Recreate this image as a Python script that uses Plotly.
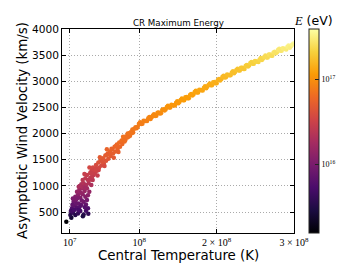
import numpy as np
import plotly.graph_objects as go

# Central temperature (K)
temperature = [
    0.56e7, 1.21e7, 1.08e7, 1.42e7, 1.72e7, 2.07e7, 2.37e7, 2.80e7, 3.10e7, 3.36e7,
    1.29e7, 1.64e7, 1.94e7, 1.50e7, 1.81e7, 2.16e7, 2.50e7, 2.80e7, 3.10e7, 3.23e7,
    1.72e7, 2.07e7, 2.37e7, 2.67e7, 3.02e7, 1.94e7, 2.24e7, 2.59e7, 2.93e7, 3.23e7,
    3.53e7, 2.16e7, 2.50e7, 2.80e7, 3.10e7, 3.45e7, 3.79e7, 2.67e7, 3.02e7, 3.36e7,
    3.66e7, 3.97e7, 3.23e7, 3.66e7, 4.09e7, 4.31e7, 4.74e7, 3.88e7,
    1.15e7, 1.35e7, 1.58e7, 1.85e7, 2.25e7, 2.55e7, 2.95e7, 2.45e7, 2.70e7, 1.95e7,
    2.70e7, 3.40e7, 1.40e7, 2.10e7, 3.00e7, 3.35e7, 2.30e7, 2.90e7, 3.55e7,
    3.70e7, 3.90e7, 4.00e7, 4.20e7, 4.40e7, 4.50e7, 4.70e7, 4.80e7, 5.00e7, 5.10e7,
    5.30e7, 5.40e7, 5.60e7, 5.70e7, 5.90e7, 6.00e7, 6.20e7, 6.30e7, 6.50e7, 6.60e7,
    6.80e7, 6.90e7, 7.10e7, 7.20e7, 7.40e7, 7.50e7, 7.70e7, 7.80e7, 8.00e7, 8.10e7,
    4.10e7, 5.20e7, 6.10e7, 3.60e7, 4.60e7, 5.50e7, 4.90e7, 5.80e7, 6.70e7, 7.30e7,
    7.90e7, 8.20e7, 8.50e7, 8.80e7, 9.10e7, 6.40e7, 7.00e7, 5.75e7, 4.35e7, 3.85e7,
    8.3e7, 8.6e7, 8.9e7, 9.2e7, 9.5e7, 9.8e7, 10.1e7, 10.4e7, 10.7e7, 11.0e7,
    11.3e7, 11.6e7, 11.9e7, 12.2e7, 12.5e7, 12.8e7, 13.1e7, 13.4e7, 13.7e7, 14.0e7,
    14.3e7, 14.6e7, 14.9e7, 15.2e7, 15.5e7, 15.8e7, 16.1e7, 16.4e7, 16.7e7, 17.0e7,
    17.3e7, 17.6e7, 17.9e7, 18.2e7, 18.5e7, 18.8e7, 19.1e7, 19.4e7, 19.7e7, 20.0e7,
    20.3e7, 20.6e7, 20.9e7, 21.2e7, 21.5e7, 21.8e7, 22.1e7, 22.4e7, 22.7e7, 23.0e7,
    23.3e7, 23.6e7, 23.9e7, 24.2e7, 24.5e7, 24.8e7, 25.1e7, 25.4e7, 25.7e7, 26.0e7,
    26.3e7, 26.6e7, 26.9e7, 27.2e7, 27.5e7, 27.8e7, 28.1e7, 28.4e7, 28.7e7, 29.0e7,
    29.3e7, 29.6e7, 29.9e7,
    8.45e7, 8.75e7, 9.05e7, 9.35e7, 9.65e7, 9.95e7, 10.25e7, 10.55e7, 10.85e7, 11.15e7,
    11.45e7, 11.75e7, 12.05e7, 12.35e7, 12.65e7, 12.95e7, 13.25e7, 13.55e7, 13.85e7, 14.15e7,
    14.45e7, 14.75e7, 15.05e7, 15.35e7, 15.65e7, 15.95e7, 16.25e7, 16.55e7, 16.85e7, 17.15e7,
    17.45e7, 17.75e7, 18.05e7, 18.35e7, 18.65e7, 18.95e7, 19.25e7, 19.55e7, 19.85e7, 20.15e7,
    20.45e7, 20.75e7, 21.05e7, 21.35e7, 21.65e7, 21.95e7, 22.25e7, 22.55e7, 22.85e7, 23.15e7,
    23.45e7, 23.75e7, 24.05e7, 24.35e7, 24.65e7, 24.95e7, 25.25e7, 25.55e7, 25.85e7, 26.15e7,
    26.45e7, 26.75e7, 27.05e7, 27.35e7, 27.65e7, 27.95e7, 28.25e7, 28.55e7, 28.85e7, 29.15e7,
    29.45e7, 29.75e7,
]

# Asymptotic wind velocity (km/s)
velocity = [
    315, 392, 443, 488, 443, 475, 520, 456, 526, 571,
    571, 622, 583, 698, 730, 666, 635, 698, 647, 730,
    794, 826, 775, 839, 794, 890, 922, 954, 903, 954,
    890, 986, 1030, 1050, 1018, 1050, 1018, 1114, 1146, 1114,
    1158, 1114, 1209, 1241, 1209, 1273, 1305, 1305,
    520, 640, 540, 660, 590, 720, 590, 870, 980, 760,
    420, 470, 760, 540, 960, 820, 1000, 1230, 1350,
    1260, 1180, 1350, 1240, 1400, 1290, 1450, 1350, 1490, 1390,
    1530, 1430, 1580, 1480, 1620, 1520, 1660, 1570, 1700, 1620,
    1750, 1660, 1790, 1710, 1830, 1750, 1870, 1800, 1910, 1850,
    1300, 1460, 1600, 1120, 1200, 1380, 1550, 1700, 1540, 1650,
    1940, 1880, 2000, 1960, 2080, 1710, 1770, 1590, 1330, 1240,
    1948, 1941, 2024, 2023, 2120, 2132, 2215, 2190, 2240, 2240,
    2319, 2313, 2372, 2343, 2405, 2387, 2468, 2462, 2531, 2500,
    2544, 2538, 2617, 2611, 2670, 2639, 2698, 2677, 2756, 2750,
    2819, 2788, 2832, 2826, 2905, 2899, 2958, 2927, 2986, 2965,
    3044, 3038, 3107, 3076, 3120, 3114, 3192, 3183, 3239, 3205,
    3261, 3237, 3313, 3304, 3370, 3336, 3377, 3368, 3444, 3435,
    3491, 3457, 3513, 3489, 3565, 3556, 3621, 3584, 3622, 3610,
    3683, 3671, 3724,
    1927, 2010, 2012, 2094, 2101, 2188, 2185, 2245, 2240, 2292,
    2281, 2345, 2339, 2401, 2383, 2450, 2440, 2509, 2498, 2552,
    2541, 2590, 2579, 2643, 2637, 2696, 2675, 2739, 2728, 2797,
    2786, 2840, 2829, 2878, 2867, 2931, 2925, 2984, 2963, 3027,
    3016, 3085, 3074, 3128, 3117, 3166, 3153, 3214, 3205, 3261,
    3237, 3298, 3284, 3350, 3336, 3387, 3373, 3419, 3405, 3466,
    3457, 3513, 3489, 3550, 3536, 3602, 3585, 3633, 3616, 3659,
    3642, 3700,
]

# CR maximum energy (eV)
energy = [
    1.6e15, 2.6e15, 3.3e15, 4.2e15, 3.3e15, 4.0e15, 4.8e15, 3.6e15, 5.0e15, 5.8e15,
    5.8e15, 6.9e15, 6.1e15, 8.9e15, 9.5e15, 8.0e15, 7.2e15, 8.9e15, 7.6e15, 9.5e15,
    1.17e16, 1.25e16, 1.12e16, 1.3e16, 1.17e16, 1.45e16, 1.55e16, 1.7e16, 1.5e16, 1.7e16,
    1.45e16, 1.9e16, 2.1e16, 2.2e16, 2.05e16, 2.2e16, 2.05e16, 2.45e16, 2.6e16, 2.45e16,
    2.65e16, 2.45e16, 2.85e16, 3.0e16, 2.85e16, 3.2e16, 3.3e16, 3.3e16,
    4.8e15, 7.2e15, 5.2e15, 7.9e15, 6.2e15, 9.3e15, 6.2e15, 1.4e16, 1.9e16, 1.05e16,
    3.0e15, 3.9e15, 1.05e16, 5.2e15, 1.75e16, 1.25e16, 2.0e16, 2.95e16, 3.55e16,
    3.1e16, 2.75e16, 3.55e16, 3.0e16, 3.8e16, 3.25e16, 4.2e16, 3.55e16, 4.5e16, 3.75e16,
    4.8e16, 4.1e16, 5.0e16, 4.4e16, 5.2e16, 4.7e16, 5.4e16, 5.0e16, 5.6e16, 5.2e16,
    5.9e16, 5.4e16, 6.1e16, 5.7e16, 6.4e16, 5.9e16, 6.6e16, 6.2e16, 6.8e16, 6.5e16,
    3.3e16, 4.3e16, 5.1e16, 2.5e16, 2.85e16, 3.7e16, 4.9e16, 5.6e16, 4.8e16, 5.3e16,
    6.9e16, 6.6e16, 7.1e16, 6.9e16, 7.4e16, 5.6e16, 6.0e16, 5.0e16, 3.4e16, 3.0e16,
    6.9e16, 6.8e16, 7.2e16, 7.2e16, 7.6e16, 7.8e16, 8.3e16, 7.9e16, 8.3e16, 8.3e16,
    8.9e16, 8.9e16, 9.3e16, 9.1e16, 9.5e16, 9.4e16, 1.0e17, 1.0e17, 1.07e17, 1.02e17,
    1.07e17, 1.07e17, 1.12e17, 1.12e17, 1.17e17, 1.15e17, 1.19e17, 1.17e17, 1.23e17, 1.23e17,
    1.27e17, 1.26e17, 1.29e17, 1.29e17, 1.35e17, 1.35e17, 1.41e17, 1.38e17, 1.45e17, 1.41e17,
    1.51e17, 1.51e17, 1.62e17, 1.58e17, 1.66e17, 1.66e17, 1.78e17, 1.74e17, 1.86e17, 1.78e17,
    1.9e17, 1.86e17, 2.04e17, 2.0e17, 2.16e17, 2.09e17, 2.19e17, 2.16e17, 2.34e17, 2.34e17,
    2.45e17, 2.4e17, 2.57e17, 2.45e17, 2.75e17, 2.7e17, 2.95e17, 2.8e17, 2.95e17, 2.9e17,
    3.3e17, 3.2e17, 3.8e17,
    6.7e16, 7.2e16, 7.2e16, 7.5e16, 7.5e16, 7.9e16, 7.9e16, 8.3e16, 8.3e16, 8.7e16,
    8.6e16, 9.1e16, 9.1e16, 9.5e16, 9.4e16, 9.9e16, 9.8e16, 1.04e17, 1.02e17, 1.08e17,
    1.07e17, 1.1e17, 1.1e17, 1.15e17, 1.15e17, 1.19e17, 1.17e17, 1.22e17, 1.21e17, 1.26e17,
    1.26e17, 1.3e17, 1.29e17, 1.33e17, 1.32e17, 1.38e17, 1.38e17, 1.45e17, 1.41e17, 1.5e17,
    1.48e17, 1.59e17, 1.58e17, 1.67e17, 1.66e17, 1.72e17, 1.7e17, 1.8e17, 1.78e17, 1.9e17,
    1.86e17, 2.0e17, 1.96e17, 2.12e17, 2.09e17, 2.2e17, 2.18e17, 2.28e17, 2.25e17, 2.4e17,
    2.4e17, 2.57e17, 2.45e17, 2.68e17, 2.62e17, 2.85e17, 2.8e17, 3.0e17, 2.95e17, 3.15e17,
    3.05e17, 3.4e17,
]

x_tick_vals = [1e7, 1e8, 2e8, 3e8]
x_tick_text = ["10<sup>7</sup>", "10<sup>8</sup>", "2 × 10<sup>8</sup>", "3 × 10<sup>8</sup>"]
y_tick_vals = [500, 1000, 1500, 2000, 2500, 3000, 3500, 4000]
cbar_tick_vals = [1e16, 1e17]
cbar_tick_text = ["10<sup>16</sup>", "10<sup>17</sup>"]

W, H = 352, 264
L, R, T, B = 54, 66, 21, 39
PW, PH = W - L - R, H - T - B

logE = np.log10(energy)

fig = go.Figure(go.Scatter(
    x=temperature, y=velocity, mode="markers",
    marker=dict(
        size=4.5, color=logE, colorscale="Inferno", cmin=15.2, cmax=17.587,
        line=dict(width=0), showscale=True,
        colorbar=dict(
            thickness=10, thicknessmode="pixels",
            len=1, lenmode="fraction",
            x=(300.7 - L) / PW, xanchor="left",
            y=0.5, yanchor="middle",
            xpad=0, ypad=0,
            outlinewidth=1, outlinecolor="#222",
            tickvals=[float(v) for v in np.log10(cbar_tick_vals)], ticktext=cbar_tick_text,
            ticks="inside", ticklen=4, tickcolor="#222",
            tickfont=dict(family="Liberation Serif", size=8, color="black"),
        ),
    ),
    showlegend=False, hoverinfo="skip",
))

axis_common = dict(
    showline=True, linecolor="black", linewidth=1, mirror="ticks",
    ticks="inside", ticklen=4, tickcolor="black",
    showgrid=True, gridcolor="#aaaaaa", griddash="1px,2px", gridwidth=1,
    zeroline=False,
)

fig.update_layout(
    width=W, height=H,
    margin=dict(l=L, r=R, t=T, b=B, pad=0),
    paper_bgcolor="white", plot_bgcolor="white",
    xaxis=dict(range=[0, 3e8], tickvals=x_tick_vals, ticktext=x_tick_text,
               tickfont=dict(family="Liberation Serif", size=10, color="black"),
               **axis_common),
    yaxis=dict(range=[100, 4000], tickvals=y_tick_vals,
               tickfont=dict(family="DejaVu Sans", size=10.6, color="black"),
               **axis_common),
    annotations=[
        dict(text="CR Maximum Energy", xref="paper", yref="paper",
             x=0.5, y=1 + (T - 15) / PH, xanchor="center", yanchor="middle",
             showarrow=False, font=dict(family="DejaVu Sans", size=8.7, color="black")),
        dict(text="Central Temperature (K)", xref="paper", yref="paper",
             x=0.5, y=-(247.7 - (T + PH)) / PH, xanchor="center", yanchor="middle",
             showarrow=False, font=dict(family="DejaVu Sans", size=13.4, color="black")),
        dict(text="Asymptotic Wind Velocity (km/s)", xref="paper", yref="paper",
             x=(14 - L) / PW, y=0.5, xanchor="center", yanchor="middle", textangle=-90,
             showarrow=False, font=dict(family="DejaVu Sans", size=13.4, color="black")),
        dict(text="<span style=\"font-family:'Liberation Serif';font-style:italic\">E</span> (eV)",
             xref="paper", yref="paper",
             x=(305.5 - L) / PW, y=1 + (T - 13) / PH, xanchor="center", yanchor="middle",
             showarrow=False, font=dict(family="DejaVu Sans", size=12.5, color="black")),
    ],
)

fig.write_html("out.html")
